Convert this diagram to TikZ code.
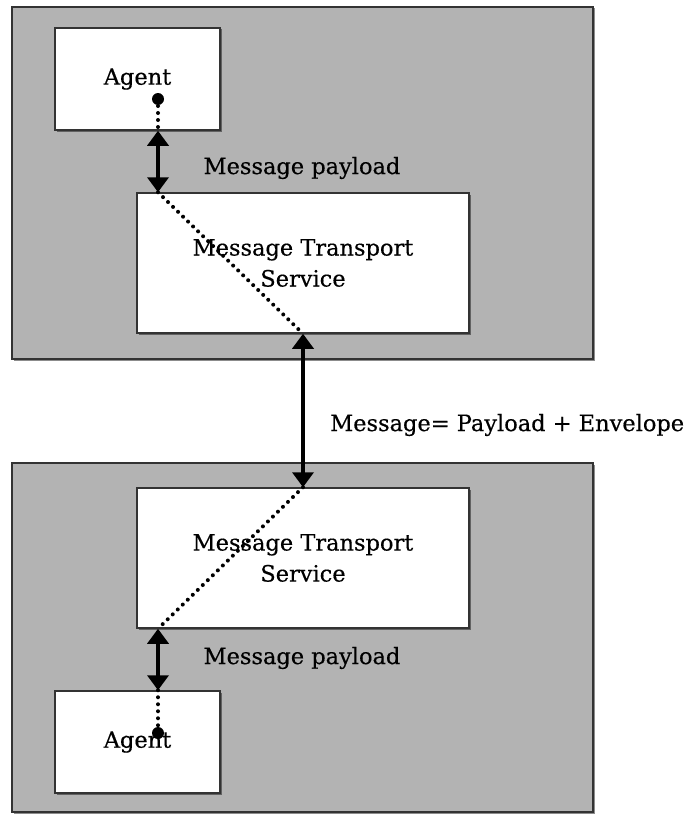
\documentclass[tikz,border=0pt]{standalone}
\usepackage{fontspec}
\setmainfont{DejaVu Serif}[FakeBold=0.4]
\usetikzlibrary{arrows.meta,shadows}
\definecolor{panel}{HTML}{B3B3B3}
\definecolor{edge}{HTML}{333333}
\tikzset{
  boxshadow/.style={drop shadow={shadow xshift=1.5pt,shadow yshift=-1.5pt,fill=black,opacity=0.45}},
  panelbox/.style={draw=edge,line width=1.5pt,fill=panel,boxshadow},
  whitebox/.style={draw=edge,line width=1.5pt,fill=white,boxshadow,align=center,
    font=\fontsize{22.5}{31}\selectfont,inner sep=0pt},
  lbl/.style={font=\fontsize{22.5}{26}\selectfont,inner sep=0pt},
  link/.style={line width=3.6pt,{Triangle[width=21pt,length=15pt]}-{Triangle[width=21pt,length=15pt]}},
  dots/.style={line width=4pt,line cap=round,dash pattern=on 0pt off 7pt},
  pin/.style={circle,fill=black,inner sep=0pt,minimum size=12pt},
}
\begin{document}
\begin{tikzpicture}[x=1pt,y=-1pt]
  \useasboundingbox (0,0) rectangle (687,816);

  % the two platforms
  \node[panelbox,minimum width=581pt,minimum height=352pt] (upper) at (302.5,183) {};
  \node[panelbox,minimum width=581pt,minimum height=349pt] (lower) at (302.5,637.5) {};

  % upper platform
  \node[whitebox,minimum width=165pt,minimum height=102pt] (agentA) at (137.5,79) {Agent};
  \node[whitebox,minimum width=332pt,minimum height=140pt] (mtsA) at (303,263) {Message Transport\\Service};

  % lower platform
  \node[whitebox,minimum width=332pt,minimum height=140pt] (mtsB) at (303,558) {Message Transport\\Service};
  \node[whitebox,minimum width=165pt,minimum height=102pt] (agentB) at (137.5,742) {Agent};

  % endpoints of the links
  \coordinate (pA) at (158,99);
  \coordinate (pB) at (158,733);
  \coordinate (aTop) at (agentA.south -| pA);
  \coordinate (mTopA) at (mtsA.north -| pA);
  \coordinate (mBotA) at (mtsA.south);
  \coordinate (mTopB) at (mtsB.north);
  \coordinate (mBotB) at (mtsB.south -| pB);
  \coordinate (aBot) at (agentB.north -| pB);

  % dotted paths through the agents and transport services
  \draw[dots] (pA) -- (aTop);
  \draw[dots] (mTopA) -- (mBotA);
  \draw[dots] (mTopB) -- (mBotB);
  \draw[dots] (aBot) -- (pB);
  \node[pin] (dotA) at (pA) {};
  \node[pin] (dotB) at (pB) {};

  % message links
  \draw[link] (aTop) -- (mTopA);
  \draw[link] (mBotA) -- (mTopB);
  \draw[link] (mBotB) -- (aBot);

  % labels
  \node[lbl] (payloadA) at (302,168) {Message payload};
  \node[lbl,anchor=west] (envelope) at (330,425) {Message= Payload + Envelope};
  \node[lbl] (payloadB) at (302,658) {Message payload};
\end{tikzpicture}
\end{document}
